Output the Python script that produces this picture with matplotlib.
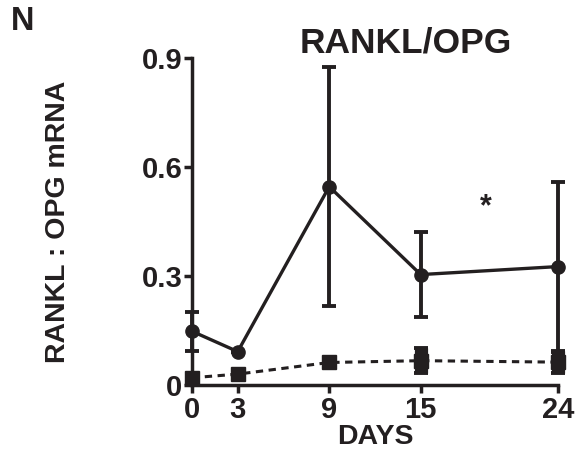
import matplotlib
matplotlib.use("Agg")
import matplotlib.pyplot as plt

plt.rcParams['font.family'] = ['Liberation Sans', 'DejaVu Sans']
plt.rcParams['font.weight'] = 'bold'

days = [0, 3, 9, 15, 24]
rankl_mean = [0.148, 0.092, 0.546, 0.304, 0.326]
rankl_err = [0.054, 0.0, 0.328, 0.117, 0.234]
ctrl_mean = [0.02, 0.03, 0.062, 0.067, 0.063]
ctrl_err = [0.0, 0.0, 0.0, 0.035, 0.03]
xticks = [0, 3, 9, 15, 24]
yticks = [0, 0.3, 0.6, 0.9]
ytick_labels = ["0", "0.3", "0.6", "0.9"]

fig = plt.figure(figsize=(5.8, 4.51), dpi=100)
ax = fig.add_axes([0.331, 0.1463, 0.631, 0.725])

ax.errorbar(days, rankl_mean, yerr=rankl_err, color='#231f20', lw=2.4,
            marker='o', markersize=9.5, elinewidth=2.8, capsize=4.7, capthick=2.8,
            clip_on=False, zorder=3)
ax.errorbar(days, ctrl_mean, yerr=ctrl_err, fmt='none', ecolor='#231f20',
            elinewidth=9.5, capsize=4.7, capthick=2.8, clip_on=False, zorder=3)
ax.plot(days, ctrl_mean, color='#231f20', lw=2.2, ls=(0, (2.4, 1.8)),
        marker='s', markersize=9.5, clip_on=False, zorder=4)

ax.set_xlim(0, 24)
ax.set_ylim(0, 0.9)
ax.set_xticks(xticks)
ax.set_xticklabels([str(d) for d in xticks])
ax.set_yticks(yticks)
ax.set_yticklabels(ytick_labels)
for s in ['top', 'right']:
    ax.spines[s].set_visible(False)
for s in ['left', 'bottom']:
    ax.spines[s].set_linewidth(2.5)
    ax.spines[s].set_color('#231f20')
ax.tick_params(axis='both', width=2.5, length=6, color='#231f20',
               labelsize=21, labelcolor='#231f20')
ax.tick_params(axis='x', pad=2)
ax.tick_params(axis='y', pad=1)
for lab in ax.get_xticklabels() + ax.get_yticklabels():
    lab.set_fontweight('bold')

ax.set_xlabel('DAYS', fontsize=20.5, fontweight='bold', color='#231f20', labelpad=0)
ax.set_ylabel('RANKL : OPG mRNA', fontsize=20.5, fontweight='bold', color='#231f20')
ax.yaxis.set_label_coords(-0.33, 0.5)

ax.text(19.3, 0.49, '*', fontsize=22, fontweight='bold', ha='center', va='center', color='#231f20')
fig.text(406/580, 1 - 43/451, 'RANKL/OPG', fontsize=25.5, fontweight='bold', ha='center', va='center', color='#231f20')
fig.text(23/580, 1 - 22/451, 'N', fontsize=23.5, fontweight='bold', ha='center', va='center', color='#231f20')

fig.savefig('out.png', dpi=100)
